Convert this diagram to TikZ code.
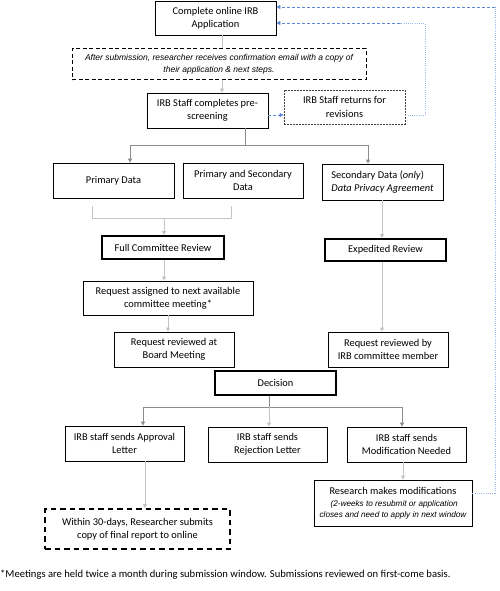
\documentclass[tikz,border=0pt]{standalone}
\usepackage{fontspec}
\setmainfont{Carlito}
\newfontfamily\robo{Liberation Sans}
\usetikzlibrary{arrows.meta,calc}
\definecolor{lgray}{HTML}{C4C4C4}
\definecolor{dgray}{HTML}{8C8C8C}
\definecolor{bdash}{HTML}{5B87D6}
\definecolor{bdot}{HTML}{9DB8EC}
\tikzset{
  box/.style={draw=black,line width=0.8pt,align=center,inner sep=0pt,font=\fontsize{10.4}{13.3}\selectfont},
  thickbox/.style={box,line width=1.8pt},
  lline/.style={draw=lgray,line width=1pt},
  dline/.style={draw=dgray,line width=1pt},
  arr/.style={-{Triangle[length=4pt,width=4pt]}},
  bluedash/.style={draw=bdash,line width=0.9pt,dash pattern=on 3pt off 2pt},
  bluedot/.style={draw=bdot,line width=0.9pt,dash pattern=on 1pt off 1.2pt},
}
\begin{document}
\begin{tikzpicture}[x=1pt,y=-1pt]
\useasboundingbox (0,0) rectangle (500,591);
% nodes
\node[box,minimum width=121pt,minimum height=34pt] (app) at (215.5,18) {Complete online IRB\\Application};
\node[box,dashed,line width=1pt,dash pattern=on 4pt off 2.5pt,minimum width=294pt,minimum height=31pt,font=\robo\itshape\fontsize{8.5}{12}\selectfont] (conf) at (219,64.5) {After submission, researcher receives confirmation email with a copy of\\their application \& next steps.};
\node[box,minimum width=121pt,minimum height=35pt] (pre) at (207.5,110.5) {IRB Staff completes pre-\\screening};
\node[box,draw=black!75,dash pattern=on 2pt off 1pt,minimum width=121pt,minimum height=34pt] (rev) at (344.5,107) {IRB Staff returns for\\revisions};
\node[box,minimum width=121pt,minimum height=35pt] (prim) at (113.5,180.5) {Primary Data};
\node[box,minimum width=120pt,minimum height=35pt] (pas) at (243,180.5) {Primary and Secondary\\Data};
\node[box,minimum width=121pt,minimum height=36pt,align=left] (sec) at (382.5,182) {Secondary Data (\textit{only})\\\textit{Data Privacy Agreement}};
\node[thickbox,minimum width=122pt,minimum height=23pt] (full) at (163,247.5) {Full Committee Review};
\node[thickbox,minimum width=121pt,minimum height=22pt] (exp) at (385.5,250) {Expedited Review};
\node[box,minimum width=170pt,minimum height=34pt] (assign) at (168,298) {Request assigned to next available\\committee meeting*};
\node[box,minimum width=120pt,minimum height=35pt] (board) at (174,349.5) {Request reviewed at\\Board Meeting};
\node[box,minimum width=120pt,minimum height=35pt] (member) at (388,349.5) {Request reviewed by\\IRB committee member};
\node[thickbox,minimum width=121pt,minimum height=24pt] (dec) at (275.5,383) {Decision};
\node[box,minimum width=119pt,minimum height=35pt] (appr) at (124.5,443.5) {IRB staff sends Approval\\Letter};
\node[box,minimum width=119pt,minimum height=35pt] (rej) at (267.5,444.5) {IRB staff sends\\Rejection Letter};
\node[box,minimum width=119pt,minimum height=35pt] (mod) at (406.5,444.5) {IRB staff sends\\Modification Needed};
\node[box,line width=1.8pt,dash pattern=on 5.5pt off 4pt,minimum width=185pt,minimum height=40pt] (within) at (137.5,529) {\raisebox{3pt}{\parbox{180pt}{\centering Within 30-days, Researcher submits\\copy of final report to online}}};
\node[box,minimum width=158pt,minimum height=46pt] (research) at (393,503) {Research makes modifications\\[-1.5pt]{\robo\itshape\fontsize{8.2}{11}\selectfont\ (2-weeks to resubmit or application}\\[-2pt]{\robo\itshape\fontsize{8.2}{11}\selectfont closes and need to apply in next window}};
\node[anchor=west,inner sep=0pt,font=\fontsize{10.6}{12}\selectfont] (foot) at (0,575) {*Meetings are held twice a month during submission window. Submissions reviewed on first-come basis.};
% gray connectors
\draw[lline] (app.south -| 222,0) -- (conf.north -| 222,0);
\draw[lline,arr] (conf.south -| 222,0) -- (pre.north -| 222,0);
\coordinate (s1) at (245,145);
\draw[dline] (pre.south -| s1) -- (s1);
\draw[dline,arr] (s1) -| (prim.north -| 130,0);
\draw[dline,arr] (s1) -| (sec.north -| 368,0);
\coordinate (bl) at (92,218);
\coordinate (br) at (231,218);
\coordinate (bm) at (164,218);
\draw[lline] ($(prim.south -| bl)+(0,8)$) -- (bl) -- (br) -- ($(pas.south -| br)+(0,8)$);
\draw[lline,arr] (bm) -- (full.north -| bm);
\draw[lline,arr] (sec.south -| 382,0) -- (exp.north -| 382,0);
\draw[lline,arr] (full.south -| 164,0) -- (assign.north -| 164,0);
\draw[lline,arr] (assign.south -| 168,0) -- (board.north -| 168,0);
\draw[lline,arr] (exp.south -| 382,0) -- (member.north -| 382,0);
\coordinate (s2) at (269,407);
\draw[dline] (dec.south -| s2) -- (s2);
\draw[dline,arr] (s2) -| (appr.north -| 143,0);
\draw[dline,arr] (s2) -| (mod.north -| 402,0);
\draw[lline,arr] (s2) -- (rej.north -| s2);
\draw[lline,arr] (appr.south -| 145,0) -- (within.north -| 145,0);
\draw[lline,arr] (mod.south -| 403,0) -- (research.north -| 403,0);
% blue loops
\draw[bluedash,arr] (pre.east |- 0,115) -- (rev.west |- 0,115);
\coordinate (r1) at (425,115);
\coordinate (r2) at (425,23);
\draw[bluedot] (rev.east |- r1) -- (r1) -- (r2) -- (400,23);
\draw[bluedash,arr] (400,23) -- (app.east |- r2);
\coordinate (q1) at (495,493);
\coordinate (q2) at (495,7);
\draw[bluedot] (research.east |- q1) -- (q1) -- (q2);
\draw[bluedash,arr] (q2) -- (app.east |- q2);
\end{tikzpicture}
\end{document}
